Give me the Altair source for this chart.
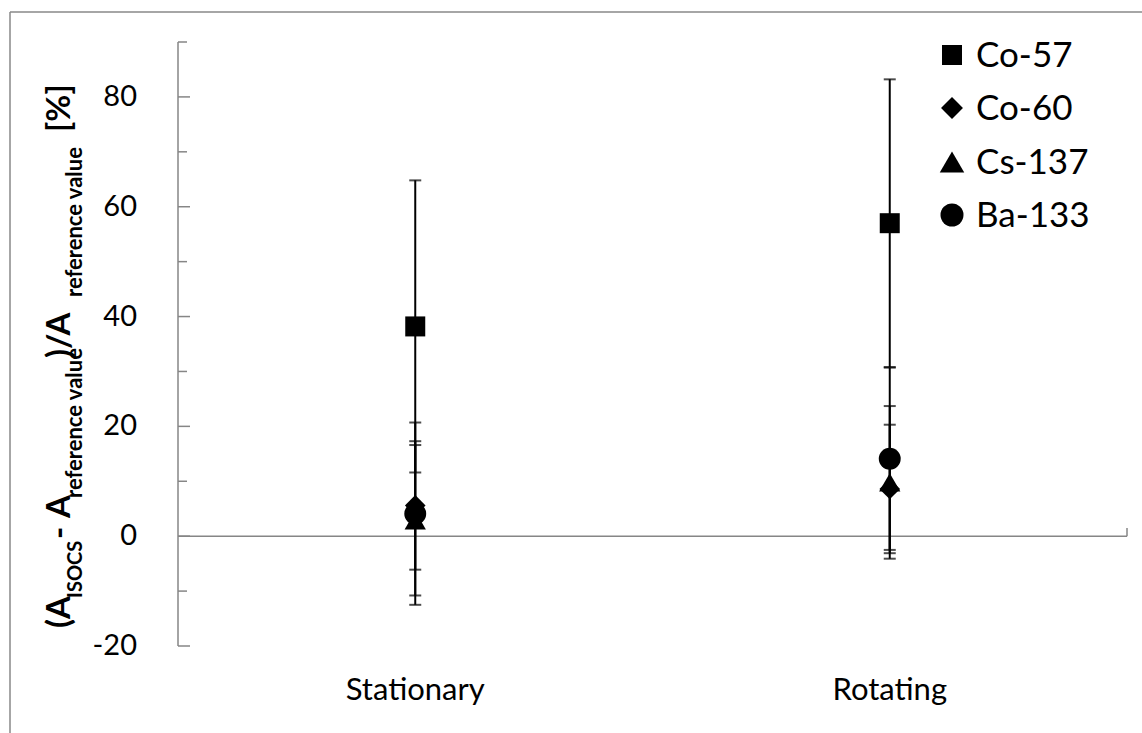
import altair as alt
import pandas as pd

# ---------------- data ----------------
conditions = ["Stationary", "Rotating"]
nuclides = ["Co-57", "Co-60", "Cs-137", "Ba-133"]
shapes = ["square", "diamond", "triangle-up", "circle"]
marker_sizes = [400, 480, 600, 529]

stationary_values = [38.2, 5.6, 2.9, 4.1]
stationary_errors = [26.6, 11.7, 13.7, 16.6]
rotating_values = [57.0, 8.6, 9.8, 14.1]
rotating_errors = [26.2, 11.7, 13.9, 16.6]

major_ticks = [-20, 0, 20, 40, 60, 80]
major_labels = ["-20", "0", "20", "40", "60", "80"]
minor_ticks = [-10, 10, 30, 50, 70, 90]
y_domain = [-20, 90]

# axis title pieces (text, font size, subscript flag, start position along axis)
title_texts = ["(A", "ISOCS", "-", "A", "reference value", ")/A", "reference value", "[%]"]
title_sizes = [33, 20, 33, 33, 22, 33, 22, 33]
title_sub = [False, True, False, False, True, False, True, False]
title_start = [628, 598, 539, 518, 498, 358, 297, 132]

# ---------------- layout ----------------
LEFT, TOP = 178, 42
W, H = 949, 604
FONT = "Lato"
GREY = "#868686"

rows = []
for i, n in enumerate(nuclides):
    for cond, vals, errs in (("Stationary", stationary_values, stationary_errors),
                             ("Rotating", rotating_values, rotating_errors)):
        v, e = vals[i], errs[i]
        rows.append({"condition": cond, "nuclide": n, "value": v,
                     "lo": v - e, "hi": v + e, "order": i})
df = pd.DataFrame(rows)

yscale = alt.Scale(domain=y_domain, nice=False, zero=False)
xscale = alt.Scale(domain=conditions, paddingInner=0, paddingOuter=0)
X = alt.X("condition:N", scale=xscale, sort=conditions, axis=None)

base = alt.Chart(df)
one = pd.DataFrame({"k": [0]})

# outer chart border (decorative)
border_left = alt.Chart(one).mark_rule(color="#898989", strokeWidth=1.5).encode(
    x=alt.value(10 - LEFT), y=alt.value(12 - TOP), y2=alt.value(733 - TOP + 5))
border_top = alt.Chart(one).mark_rule(color="#898989", strokeWidth=1.5).encode(
    x=alt.value(10 - LEFT), x2=alt.value(1142 - LEFT + 5), y=alt.value(12 - TOP))

# y axis line
ydomain_line = alt.Chart(pd.DataFrame({"a": [y_domain[0]], "b": [y_domain[1]]})).mark_rule(
    color=GREY, strokeWidth=1.5).encode(
    y=alt.Y("a:Q", scale=yscale, axis=None), y2="b:Q", x=alt.value(0))

# zero line (horizontal axis) with its end tick
zero = alt.Chart(pd.DataFrame({"z": [0]})).mark_rule(color=GREY, strokeWidth=1.5).encode(
    y=alt.Y("z:Q", scale=yscale, axis=None), x=alt.value(0), x2=alt.value(W))
zero_end = alt.Chart(pd.DataFrame({"a": [0], "b": [1.5]})).mark_rule(color=GREY, strokeWidth=1.5).encode(
    y=alt.Y("a:Q", scale=yscale, axis=None), y2="b:Q", x=alt.value(W))

# inward tick marks on y axis
maj = alt.Chart(pd.DataFrame({"t": major_ticks})).mark_rule(color=GREY, strokeWidth=1.5).encode(
    y=alt.Y("t:Q", scale=yscale, axis=None), x=alt.value(0), x2=alt.value(12))
mnr = alt.Chart(pd.DataFrame({"t": minor_ticks})).mark_rule(color=GREY, strokeWidth=1.5).encode(
    y=alt.Y("t:Q", scale=yscale, axis=None), x=alt.value(0), x2=alt.value(9))

# y tick labels
ylabels = alt.Chart(pd.DataFrame({"t": major_ticks, "lab": major_labels})).mark_text(
    align="right", baseline="middle", font=FONT, fontSize=29, color="black").encode(
    y=alt.Y("t:Q", scale=yscale, axis=None), x=alt.value(-41), text="lab:N")

# x category labels
xlabels = alt.Chart(pd.DataFrame({"condition": conditions})).mark_text(
    align="center", baseline="middle", font=FONT, fontSize=31, color="black").encode(
    x=X, y=alt.value(H + 45), text="condition:N")

# error bars
err = base.mark_rule(color="black", strokeWidth=2).encode(
    x=X, y=alt.Y("lo:Q", scale=yscale, axis=None), y2="hi:Q")
cap_hi = base.mark_tick(color="black", thickness=2, size=12).encode(
    x=X, y=alt.Y("hi:Q", scale=yscale, axis=None))
cap_lo = base.mark_tick(color="black", thickness=2, size=12).encode(
    x=X, y=alt.Y("lo:Q", scale=yscale, axis=None))

# markers
pts = base.mark_point(filled=True, opacity=1, color="black").encode(
    x=X,
    y=alt.Y("value:Q", scale=yscale, axis=None),
    shape=alt.Shape("nuclide:N", scale=alt.Scale(domain=nuclides, range=shapes), legend=None),
    size=alt.Size("nuclide:N", scale=alt.Scale(domain=nuclides, range=marker_sizes), legend=None),
    order=alt.Order("order:Q"))

# legend (top right)
legend_layers = []
leg_y = [13, 66, 120, 173]
for name, shp, sz, ly in zip(nuclides, shapes, marker_sizes, leg_y):
    legend_layers.append(alt.Chart(one).mark_point(filled=True, opacity=1, color="black").encode(
        x=alt.value(774), y=alt.value(ly), shape=alt.value(shp), size=alt.value(sz)))
    legend_layers.append(alt.Chart(one).mark_text(
        align="left", baseline="middle", font=FONT, fontSize=35, color="black").encode(
        x=alt.value(798), y=alt.value(ly + 1), text=alt.value(name)))

# y axis title built from pieces (with subscripts)
title_layers = []
for txt, fs, sub, start in zip(title_texts, title_sizes, title_sub, title_start):
    title_layers.append(
        alt.Chart(one).mark_text(angle=270, align="left", baseline="alphabetic",
                                 font=FONT, fontWeight="bold", color="black",
                                 fontSize=fs).encode(
            x=alt.value((82 if sub else 70) - LEFT),
            y=alt.value(start - TOP),
            text=alt.value(txt)))

chart = alt.layer(border_left, border_top, ydomain_line, zero, zero_end, maj, mnr, ylabels, xlabels,
                  err, cap_hi, cap_lo, pts, *legend_layers, *title_layers).properties(
    width=W, height=H,
    autosize=alt.AutoSizeParams(type="none"),
    padding={"left": LEFT, "top": TOP, "right": 1142 - LEFT - W, "bottom": 733 - TOP - H},
    background="white",
).configure_view(stroke=None)

chart.save("out.html", embed_options={"renderer": "svg", "actions": False})
